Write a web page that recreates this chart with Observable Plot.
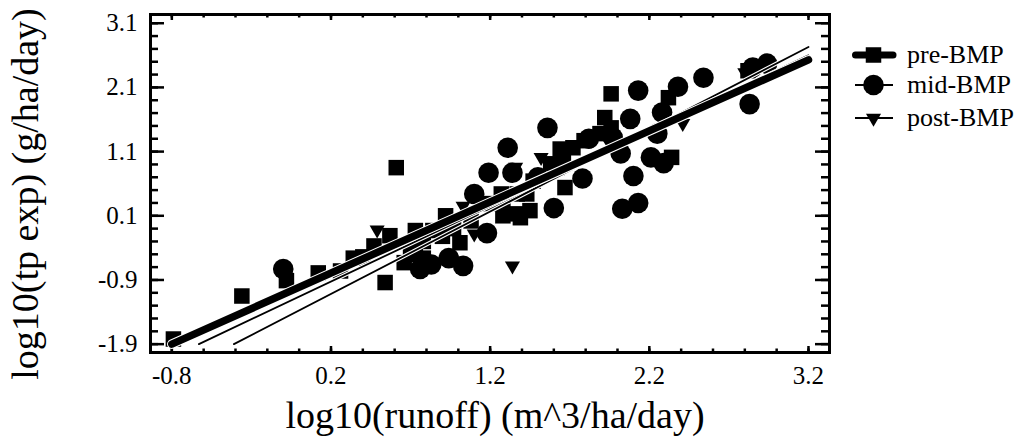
<!DOCTYPE html>
<html><head><meta charset="utf-8">
<script src="https://cdn.jsdelivr.net/npm/d3@7"></script>
<script src="https://cdn.jsdelivr.net/npm/@observablehq/plot@0.6"></script>
<style>
body{margin:0;background:#fff;font-family:"Liberation Serif","Times New Roman",serif;}
#wrap{position:relative;width:1023px;height:446px;overflow:hidden;}
.row{position:absolute;left:848px;display:flex;align-items:center;height:34px;font-size:26px;line-height:34px;color:#000;white-space:nowrap;}
#ytitle{position:absolute;left:25px;top:194px;font-size:38px;line-height:38px;white-space:nowrap;color:#000;transform:translate(-50%,-50%) rotate(-90deg);}
</style></head><body><div id="wrap"><div id="chart"></div><div id="ytitle">log10(tp exp) (g/ha/day)</div></div>
<script>
// ---- data ----
const xTicks = [-0.8, 0.2, 1.2, 2.2, 3.2];
const yTicks = [-1.9, -0.9, 0.1, 1.1, 2.1, 3.1];
const seriesNames = ["pre-BMP", "mid-BMP", "post-BMP"];

const preBMP = [
  [-0.79,-1.82],[-0.36,-1.15],[-0.08,-0.91],[0.12,-0.79],[0.26,-0.76],[0.34,-0.56],[0.40,-0.54],
  [0.47,-0.37],[0.54,-0.94],[0.57,-0.21],[0.61,0.85],[0.66,-0.63],[0.70,-0.50],[0.73,-0.13],[0.73,-0.40],
  [0.78,-0.30],[0.78,-0.56],[0.84,-0.13],[0.90,-0.22],[0.92,0.10],[0.97,-0.10],[1.01,-0.32],[1.08,0.02],
  [1.19,0.29],[1.27,0.44],[1.28,0.33],[1.28,0.10],[1.37,0.44],[1.37,0.13],
  [1.39,0.07],[1.43,0.44],[1.45,0.18],[1.47,0.64],[1.58,0.91],[1.62,0.85],[1.66,0.96],
  [1.67,0.54],[1.64,1.14],[1.72,1.16],[1.79,1.27],[1.89,1.38],[1.96,1.47],[1.92,1.63],
  [1.96,2.00],[2.32,1.94],[2.34,1.01],[2.82,2.36]
];
const midBMP = [
  [-0.10,-0.73],[0.76,-0.73],[0.83,-0.66],[0.94,-0.56],[1.03,-0.68],[1.18,-0.17],[1.10,0.44],
  [1.19,0.77],[1.34,0.77],[1.31,1.16],[1.50,0.70],[1.56,1.47],[1.60,0.22],
  [1.78,0.68],[1.82,1.30],[1.97,1.32],[2.02,1.07],[2.03,0.21],[2.13,0.30],[2.10,0.72],
  [2.08,1.61],[2.13,2.05],[2.21,1.01],[2.29,0.92],[2.25,1.38],[2.28,1.71],[2.38,2.11],
  [2.54,2.25],[2.83,1.84],[2.85,2.41],[2.94,2.47]
];
const postBMP = [
  [0.49,-0.12],[1.03,0.25],[1.10,-0.18],[1.34,-0.68],[1.36,0.86],[1.52,1.01],[2.41,1.54],[2.80,2.33]
];
// fitted regression lines (one per series)
const fitStart = [-0.8, -0.63, -0.41];
const fitEnd = [3.2, 3.2, 3.2];
const fitIntercept = [-1.014, -1.16, -1.374];
const fitSlope = [1.1075, 1.175, 1.2825];

// ---- layout ----
const W = 1023, H = 446, mL = 150, mR = 194, mT = 14, mB = 94;
const pw = W - mL - mR, ph = H - mT - mB;
const fmt = d => d.toFixed(1);
const xMinor = d3.range(21).map(i => +(-0.8 + i * 0.2).toFixed(1));
const yMinor = d3.range(26).map(i => +(-1.9 + i * 0.2).toFixed(1));
const triDown = {draw(ctx, size) {
  const y = Math.sqrt(size / (Math.sqrt(3) * 3));
  ctx.moveTo(0, 2 * y); ctx.lineTo(-Math.sqrt(3) * y, -y); ctx.lineTo(Math.sqrt(3) * y, -y); ctx.closePath();
}};
const toPts = a => a.map(([x, y]) => ({x, y}));
const fitLine = i => [fitStart[i], fitEnd[i]].map(x => ({x, y: fitIntercept[i] + fitSlope[i] * x}));

const chart = Plot.plot({
  width: W, height: H, marginLeft: mL, marginRight: mR, marginTop: mT, marginBottom: mB,
  style: {fontFamily: "'Liberation Serif', 'Times New Roman', serif", color: "#000", background: "#fff"},
  x: {domain: [-0.934, 3.332], axis: null},
  y: {domain: [-2.03, 3.236], axis: null},
  marks: [
    // inward ticks
    Plot.tickY(yTicks, {y: d => d, insetRight: pw - 14, strokeWidth: 2.5}),
    Plot.tickY(yMinor, {y: d => d, insetRight: pw - 8, strokeWidth: 2.5}),
    Plot.tickY(yTicks, {y: d => d, insetLeft: pw - 14, strokeWidth: 2.5}),
    Plot.tickY(yMinor, {y: d => d, insetLeft: pw - 8, strokeWidth: 2.5}),
    Plot.tickX(xTicks, {x: d => d, insetTop: ph - 6, strokeWidth: 2.5}),
    Plot.tickX(xMinor, {x: d => d, insetTop: ph - 3.5, strokeWidth: 2.5}),
    Plot.tickX(xTicks, {x: d => d, insetBottom: ph - 6, strokeWidth: 2.5}),
    Plot.tickX(xMinor, {x: d => d, insetBottom: ph - 3.5, strokeWidth: 2.5}),
    Plot.axisX({ticks: xTicks, tickSize: 0, tickPadding: 14, tickFormat: fmt, fontSize: 25, label: null}),
    Plot.axisY({ticks: yTicks, tickSize: 0, tickPadding: 13, tickFormat: fmt, fontSize: 25, label: null}),
    // points
    Plot.dot(toPts(preBMP), {x: "x", y: "y", symbol: "square", r: 8.75, fill: "#000"}),
    Plot.dot(toPts(midBMP), {x: "x", y: "y", symbol: "circle", r: 10.3, fill: "#000"}),
    Plot.dot(toPts(postBMP), {x: "x", y: "y", symbol: triDown, r: 5.6, fill: "#000"}),
    // regression lines (white casing + black)
    Plot.line(fitLine(2), {x: "x", y: "y", stroke: "#fff", strokeWidth: 4}),
    Plot.line(fitLine(2), {x: "x", y: "y", stroke: "#000", strokeWidth: 1.8}),
    Plot.line(fitLine(1), {x: "x", y: "y", stroke: "#fff", strokeWidth: 4}),
    Plot.line(fitLine(1), {x: "x", y: "y", stroke: "#000", strokeWidth: 1.8}),
    Plot.line(fitLine(0), {x: "x", y: "y", stroke: "#fff", strokeWidth: 9.5, strokeLinecap: "round"}),
    Plot.line(fitLine(0), {x: "x", y: "y", stroke: "#000", strokeWidth: 7.5, strokeLinecap: "round"}),
    Plot.frame({stroke: "#000", strokeWidth: 3}),
    // x axis title
    Plot.text(["log10(runoff) (m^3/ha/day)"], {text: d => d, frameAnchor: "bottom", lineAnchor: "middle", textAnchor: "middle", dy: 63, dx: 5, fontSize: 38})
  ]
});
document.getElementById("chart").appendChild(chart);

// ---- legend ----
const legendSpec = [
  {name: seriesNames[0], sym: d3.symbolSquare, r: 8.75, sw: 7, x1: 7.5, x2: 45, cap: "round", cy: 55},
  {name: seriesNames[1], sym: d3.symbolCircle, r: 10.3, sw: 2, x1: 7, x2: 45, cap: "butt", cy: 85},
  {name: seriesNames[2], sym: triDown, r: 5.6, sw: 2, x1: 7, x2: 45, cap: "butt", cy: 118}
];
const wrap = d3.select("#wrap");
legendSpec.forEach(s => {
  const row = wrap.append("div").attr("class", "row").style("top", (s.cy - 17) + "px");
  const svg = row.append("svg").attr("width", 59).attr("height", 34);
  svg.append("line").attr("x1", s.x1).attr("x2", s.x2).attr("y1", 17).attr("y2", 17)
    .attr("stroke", "#000").attr("stroke-width", s.sw).attr("stroke-linecap", s.cap);
  svg.append("path").attr("transform", "translate(25.5,17)")
    .attr("d", d3.symbol(s.sym, Math.PI * s.r * s.r)()).attr("fill", "#000");
  row.append("span").text(s.name);
});
</script></body></html>
